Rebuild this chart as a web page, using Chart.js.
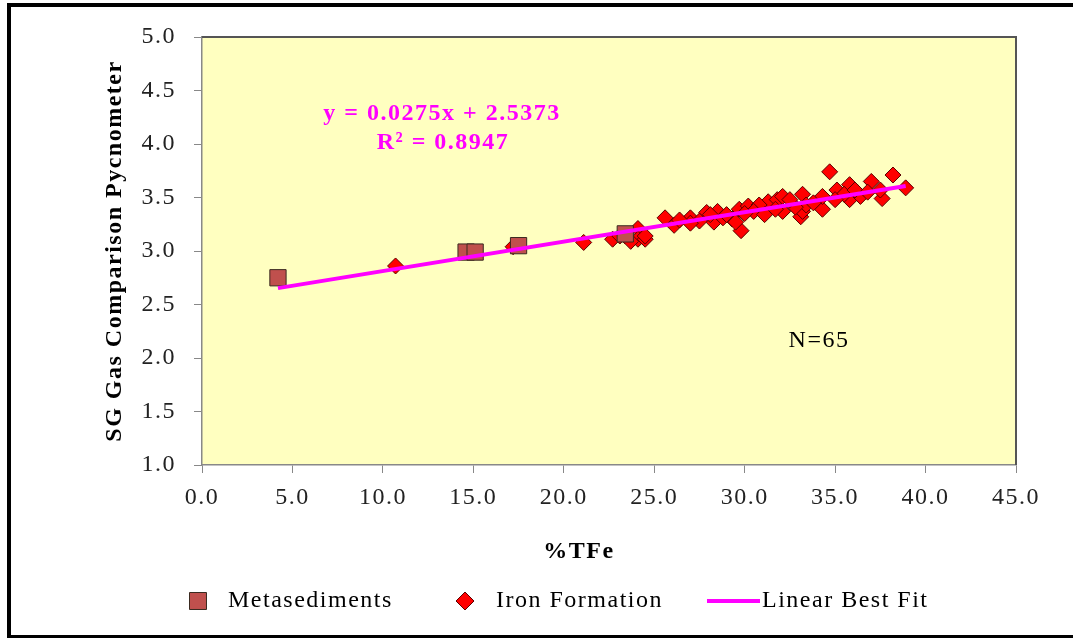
<!DOCTYPE html>
<html>
<head>
<meta charset="utf-8">
<script src="https://cdn.jsdelivr.net/npm/chart.js@4.4.1/dist/chart.umd.min.js"></script>
<style>
  html, body { margin: 0; padding: 0; background: #fff; overflow: hidden; }
  #frame { position: absolute; left: 7px; top: 3px; width: 1100px; height: 628px; border: 4px solid #000; border-bottom-width: 3px; }
  #wrap { position: absolute; left: 0; top: 0; width: 1073px; height: 638px; }
</style>
</head>
<body>
<div id="frame"></div>
<div id="wrap"><canvas id="chart"></canvas></div>
<script>
// Metasediments (%TFe vs SG)
const metaX = [4.2, 14.6, 15.1, 17.5, 23.4];
const metaY = [2.75, 2.99, 2.99, 3.05, 3.16];

// Iron Formation (%TFe vs SG)
const ironX = [10.7, 17.2, 21.1, 22.7, 23.4, 24.1, 24.1, 24.5, 25.6, 26.1,
               27.0, 27.9, 28.3, 28.5, 28.8, 29.3, 29.7, 29.8, 30.2, 31.3,
               31.8, 32.1, 32.1, 33.2, 33.1, 33.2, 33.4, 34.3, 34.3, 34.7,
               35.1, 35.8, 35.8, 36.4, 37.0, 37.6, 38.2, 38.9, 31.7, 32.8,
               33.8, 35.5, 36.1, 29.0, 27.5, 29.5, 24.5, 23.7, 23.1, 30.8,
               32.5, 28.1, 30.5, 31.1, 27.0, 26.4, 35.0, 36.8, 37.5, 30.0];
const ironY = [2.86, 3.04, 3.08, 3.11, 3.14, 3.21, 3.11, 3.11, 3.31, 3.24,
               3.31, 3.36, 3.27, 3.37, 3.31, 3.30, 3.39, 3.19, 3.42, 3.46,
               3.48, 3.37, 3.51, 3.53, 3.32, 3.37, 3.43, 3.39, 3.51, 3.74,
               3.57, 3.62, 3.48, 3.51, 3.65, 3.49, 3.71, 3.59, 3.39, 3.41,
               3.45, 3.53, 3.57, 3.34, 3.28, 3.27, 3.14, 3.09, 3.14, 3.43,
               3.48, 3.34, 3.37, 3.34, 3.26, 3.29, 3.48, 3.55, 3.57, 3.35];

// linear fit reported on the chart
const fitSlope = 0.0275;
const fitIntercept = 2.5373;
const fitR2 = 0.8947;
const sampleCount = 65;

const xTicks = [0, 5, 10, 15, 20, 25, 30, 35, 40, 45];
const yTicks = [1.0, 1.5, 2.0, 2.5, 3.0, 3.5, 4.0, 4.5, 5.0];

const SERIF = '"Liberation Serif", "Times New Roman", serif';
const SPACING = '1.5px';
const FS = 24;

const allX = metaX.concat(ironX);
const xMin = Math.min(...allX), xMax = Math.max(...allX);
const fitPoints = [xMin, xMax].map(x => ({ x: x, y: fitSlope * x + fitIntercept }));

const extras = {
  id: 'extras',
  beforeUpdate(chart) { chart.ctx.letterSpacing = SPACING; },
  beforeLayout(chart) { chart.ctx.letterSpacing = SPACING; },
  beforeDraw(chart) {
    const { ctx, chartArea: a } = chart;
    ctx.letterSpacing = SPACING;
    ctx.save();
    ctx.fillStyle = '#FFFFC0';
    ctx.fillRect(a.left, a.top, a.right - a.left, a.bottom - a.top);
    ctx.restore();
  },
  beforeDatasetsDraw(chart) {
    const { ctx, chartArea: a } = chart;
    ctx.save();
    ctx.strokeStyle = '#555';
    ctx.lineWidth = 2;
    ctx.beginPath();
    ctx.moveTo(a.left, a.top);
    ctx.lineTo(a.right, a.top);
    ctx.lineTo(a.right, a.bottom);
    ctx.stroke();
    ctx.restore();
  },
  afterDraw(chart) {
    const { ctx } = chart;
    const ds = chart.data.datasets;
    ctx.save();
    ctx.textBaseline = 'middle';

    // regression text
    ctx.fillStyle = '#FF00FF';
    ctx.font = 'bold ' + FS + 'px ' + SERIF;
    ctx.textAlign = 'center';
    ctx.fillText('y = ' + fitSlope.toFixed(4) + 'x + ' + fitIntercept.toFixed(4), 442, 114);
    ctx.fillText('R\u00B2 = ' + fitR2.toFixed(4), 443, 143);

    // N label
    ctx.fillStyle = '#000';
    ctx.font = FS + 'px ' + SERIF;
    ctx.fillText('N=' + sampleCount, 819, 341);

    // x axis title
    ctx.font = 'bold ' + FS + 'px ' + SERIF;
    ctx.fillText('%TFe', 579, 552);

    // legend
    const ly = 601;
    ctx.font = FS + 'px ' + SERIF;
    ctx.textAlign = 'left';
    const m = ds[0];
    ctx.fillStyle = m.backgroundColor; ctx.strokeStyle = m.borderColor; ctx.lineWidth = 1;
    Chart.helpers.drawPoint(ctx, { pointStyle: 'rect', radius: 12, borderWidth: 1 }, 198, ly);
    const f = ds[1];
    ctx.fillStyle = f.backgroundColor; ctx.strokeStyle = f.borderColor;
    Chart.helpers.drawPoint(ctx, { pointStyle: 'rectRot', radius: 9, borderWidth: 1 }, 465, ly);
    const l = ds[2];
    ctx.strokeStyle = l.borderColor; ctx.lineWidth = 4;
    ctx.beginPath(); ctx.moveTo(707, ly); ctx.lineTo(760, ly); ctx.stroke();
    ctx.fillStyle = '#000';
    ctx.fillText(m.label, 228, ly);
    ctx.fillText(f.label, 496, ly);
    ctx.fillText(l.label, 762, ly);
    ctx.restore();
  }
};

new Chart(document.getElementById('chart'), {
  type: 'scatter',
  data: {
    datasets: [
      {
        label: 'Metasediments',
        data: metaX.map((x, i) => ({ x: x, y: metaY[i] })),
        pointStyle: 'rect',
        pointRadius: 11.5,
        backgroundColor: '#C0504D',
        borderColor: '#3A2A20',
        borderWidth: 1,
        order: 1
      },
      {
        label: 'Iron Formation',
        data: ironX.map((x, i) => ({ x: x, y: ironY[i] })),
        pointStyle: 'rectRot',
        pointRadius: 8,
        backgroundColor: '#FF0000',
        borderColor: '#5A0000',
        borderWidth: 1,
        order: 2
      },
      {
        label: 'Linear Best Fit',
        type: 'line',
        data: fitPoints,
        borderColor: '#FF00FF',
        borderWidth: 4,
        pointRadius: 0,
        fill: false,
        order: 0
      }
    ]
  },
  options: {
    responsive: true,
    maintainAspectRatio: false,
    animation: false,
    layout: { padding: { left: 0, top: 37, right: 57, bottom: 0 } },
    plugins: { legend: { display: false }, tooltip: { enabled: false } },
    scales: {
      x: {
        type: 'linear',
        min: 0, max: 45,
        afterFit: s => { s.height = 173; },
        afterBuildTicks: s => { s.ticks = xTicks.map(v => ({ value: v })); },
        grid: { drawOnChartArea: false, drawTicks: true, tickLength: 8, color: '#888' },
        border: { display: true, color: '#888', width: 1.5 },
        ticks: {
          padding: 10,
          color: '#222',
          font: { family: SERIF, size: FS },
          callback: v => v.toFixed(1)
        }
      },
      y: {
        type: 'linear',
        min: 1, max: 5,
        afterFit: s => { s.width = 202; },
        afterBuildTicks: s => { s.ticks = yTicks.map(v => ({ value: v })); },
        grid: { drawOnChartArea: false, drawTicks: true, tickLength: 8, color: '#888' },
        border: { display: true, color: '#888', width: 1.5 },
        ticks: {
          padding: 18,
          color: '#222',
          font: { family: SERIF, size: FS },
          callback: v => v.toFixed(1)
        },
        title: {
          display: true,
          text: 'SG Gas Comparison Pycnometer',
          color: '#000',
          font: { family: SERIF, size: FS, weight: 'bold' },
          padding: { top: 100, bottom: 0 }
        }
      }
    }
  },
  plugins: [extras]
});
</script>
</body>
</html>
